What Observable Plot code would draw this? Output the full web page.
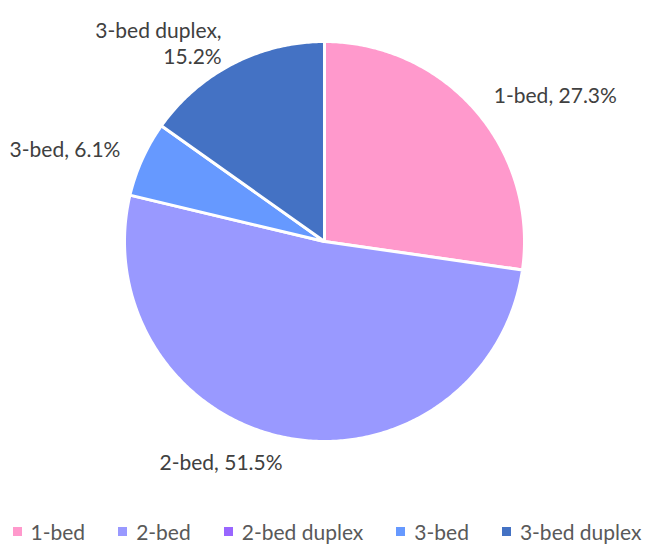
<!DOCTYPE html>
<html>
<head>
<meta charset="utf-8">
<script src="https://cdn.jsdelivr.net/npm/d3@7"></script>
<script src="https://cdn.jsdelivr.net/npm/@observablehq/plot@0.6"></script>
<style>
  html, body { margin: 0; padding: 0; background: #fff; }
  #chart { width: 654px; height: 547px; position: relative; }
  .legend { display: flex; justify-content: center; gap: 33px; font-family: Lato, "Open Sans", sans-serif; font-size: 21px; color: #595959; height: 52px; align-items: center; }
  .legend span.item { display: inline-flex; align-items: center; white-space: nowrap; }
  .legend i { display: inline-block; width: 9px; height: 9px; margin-right: 9px; }
</style>
</head>
<body>
<div id="chart"></div>
<script>
const categories = ["1-bed", "2-bed", "2-bed duplex", "3-bed", "3-bed duplex"];
const values = [27.3, 51.5, 0, 6.1, 15.2];
const colors = ["#FF99CC", "#9999FF", "#9966FF", "#6699FF", "#4472C4"];
const labels = ["1-bed, 27.3%", "2-bed, 51.5%", "", "3-bed, 6.1%", "3-bed duplex,\n15.2%"];

const table = categories.map((c, i) => ({key: c, value: values[i], label: labels[i]}));
const arcs = d3.pie().value(d => d.value).sort(null).startAngle(0).endAngle(2 * Math.PI)(table);

// polygon points in unit space (angle measured clockwise from top)
const pts = [];
for (const a of arcs) {
  if (a.endAngle - a.startAngle <= 0) continue;
  pts.push({key: a.data.key, x: 0, y: 0});
  const n = Math.max(2, Math.ceil((a.endAngle - a.startAngle) / 0.01));
  for (let k = 0; k <= n; k++) {
    const t = a.startAngle + (a.endAngle - a.startAngle) * k / n;
    pts.push({key: a.data.key, x: Math.sin(t), y: Math.cos(t)});
  }
}

const lr = 1.12;
const labelData = arcs.filter(a => a.data.value > 0).map(a => {
  const m = (a.startAngle + a.endAngle) / 2;
  const s = Math.sin(m);
  return {text: a.data.label, x: lr * s, y: lr * Math.cos(m), side: s > 0.1 ? "start" : (s < -0.1 ? "end" : "middle")};
});

const textStyle = {fontSize: 21, fill: "#404040", fontFamily: "Lato, 'Open Sans', sans-serif", lineHeight: 1.25};

const plot = Plot.plot({
  width: 654,
  height: 505,
  style: {background: "#fff", fontFamily: "Lato, 'Open Sans', sans-serif"},
  x: {domain: [-1, 1], range: [124, 524], axis: null},
  y: {domain: [-1, 1], range: [441, 41], axis: null},
  color: {domain: categories, range: colors},
  marks: [
    Plot.line(pts, {x: "x", y: "y", z: "key", fill: "key", stroke: "#fff", strokeWidth: 3, strokeLinejoin: "round", curve: "linear-closed"}),
    Plot.text(labelData.filter(d => d.side === "start"), {x: "x", y: "y", text: "text", textAnchor: "start", ...textStyle}),
    Plot.text(labelData.filter(d => d.side === "end"), {x: "x", y: "y", text: "text", textAnchor: "end", ...textStyle}),
    Plot.text(labelData.filter(d => d.side === "middle"), {x: "x", y: "y", text: "text", textAnchor: "middle", ...textStyle})
  ]
});

const root = document.getElementById("chart");
root.appendChild(plot);
const legend = document.createElement("div");
legend.className = "legend";
categories.forEach((c, i) => {
  const it = document.createElement("span");
  it.className = "item";
  const sw = document.createElement("i");
  sw.style.background = colors[i];
  it.appendChild(sw);
  it.appendChild(document.createTextNode(c));
  legend.appendChild(it);
});
root.appendChild(legend);
</script>
</body>
</html>
